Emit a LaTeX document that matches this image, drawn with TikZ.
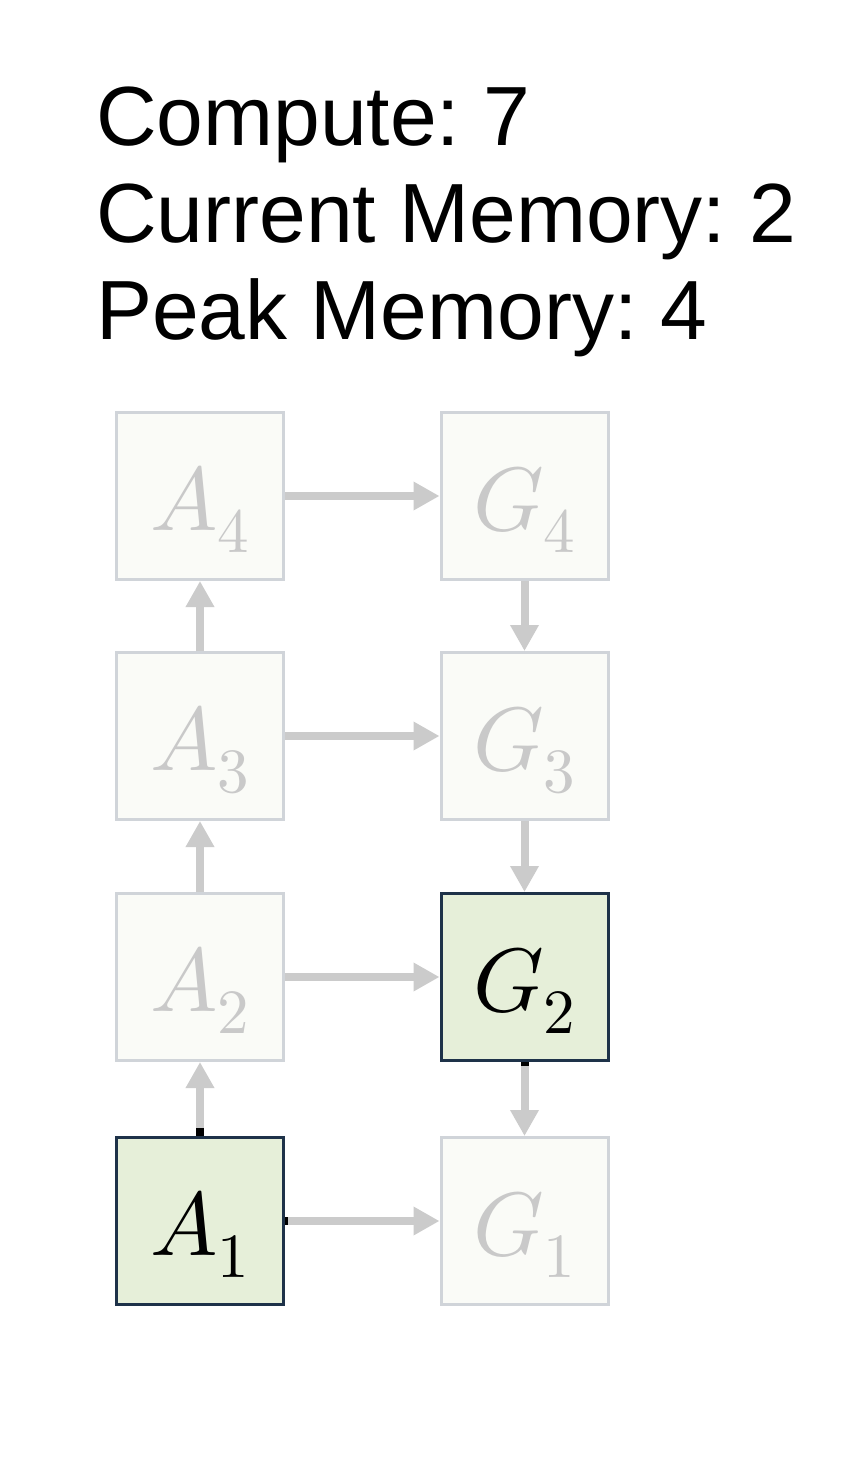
\documentclass[tikz,border=0pt]{standalone}
\usepackage{fontspec}
\usepackage{unicode-math}
\setmainfont{Liberation Sans}
\setmathfont{Latin Modern Math}
\usetikzlibrary{arrows.meta}
\frenchspacing
\definecolor{offborder}{HTML}{D0D4D9}
\definecolor{offfill}{HTML}{FAFBF7}
\definecolor{onfill}{HTML}{E6EFD9}
\definecolor{onborder}{HTML}{1E3249}
\definecolor{arrgrey}{HTML}{CBCBCB}
\definecolor{offtext}{HTML}{C9C9C9}
\newcommand{\boxlabel}[1]{\raisebox{-34pt}[0pt][0pt]{$#1$}}
\begin{document}
\begin{tikzpicture}[x=1pt,y=-1pt,
  box/.style={draw, rectangle, minimum width=167pt, minimum height=167pt, inner sep=0pt,
    line width=3pt, font=\fontsize{90}{90}\selectfont},
  offbox/.style={box, draw=offborder, fill=offfill, text=offtext},
  onbox/.style={box, draw=onborder, fill=onfill, text=black},
  arr/.style={draw=arrgrey, line width=8pt, -{Triangle[length=26pt,width=27pt]}},
  blackstub/.style={draw=black, line width=8pt},
  info/.style={anchor=base west, inner sep=0pt, font=\fontsize{84}{84}\selectfont}
]
\useasboundingbox (0,0) rectangle (862,1480);
\fill[white] (0,0) rectangle (862,1480);

\node[info] (t1) at (96,145) {Compute: 7};
\node[info] (t2) at (96,242) {Current Memory: 2};
\node[info] (t3) at (96,339) {Peak Memory: 4};

\node[offbox] (A4) at (200,496) {\boxlabel{A_4}};
\node[offbox] (A3) at (200,736) {\boxlabel{A_3}};
\node[offbox] (A2) at (200,977) {\boxlabel{A_2}};
\node[onbox]  (A1) at (200,1221) {\boxlabel{A_1}};
\node[offbox] (G4) at (524.5,496) {\boxlabel{G_4}};
\node[offbox] (G3) at (524.5,736) {\boxlabel{G_3}};
\node[onbox]  (G2) at (524.5,977) {\boxlabel{G_2}};
\node[offbox] (G1) at (524.5,1221) {\boxlabel{G_1}};

\draw[arr] (A1) -- (A2);
\draw[arr] (A2) -- (A3);
\draw[arr] (A3) -- (A4);
\draw[arr] (G4) -- (G3);
\draw[arr] (G3) -- (G2);
\draw[arr] (G2) -- (G1);
\draw[arr] (A4) -- (G4);
\draw[arr] (A3) -- (G3);
\draw[arr] (A2) -- (G2);
\draw[arr] (A1) -- (G1);

\draw[blackstub] (A1.north) -- ++(0,-8);
\draw[blackstub] (A1.east) -- ++(3,0);
\draw[blackstub] (G2.south) -- ++(0,4);
\end{tikzpicture}
\end{document}
